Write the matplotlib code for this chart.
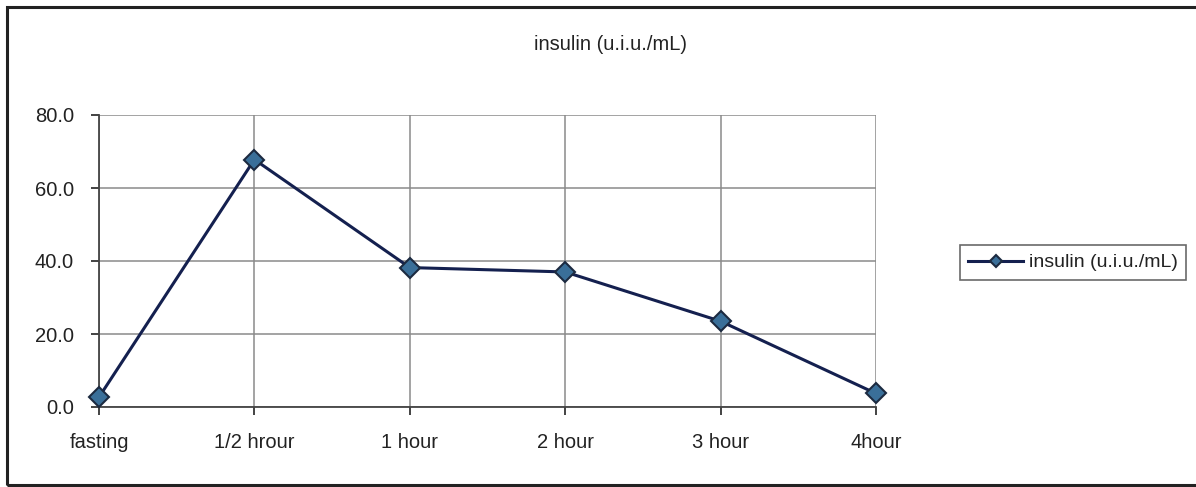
import matplotlib

matplotlib.use("Agg")
import matplotlib.pyplot as plt
from matplotlib.patches import Rectangle
from matplotlib.ticker import FormatStrFormatter

# values
times = ["fasting", "1/2 hrour", "1 hour", "2 hour", "3 hour", "4hour"]
insulin = [2.7, 67.8, 38.2, 37.0, 23.5, 3.7]
y_ticks = [0, 20, 40, 60, 80]
series_name = "insulin (u.i.u./mL)"

plt.rcParams["font.family"] = ["Liberation Sans", "DejaVu Sans"]

W, H = 1196, 487
fig = plt.figure(figsize=(W / 100, H / 100), dpi=100)
ax = fig.add_axes([99 / W, 1 - 407 / H, (876 - 99) / W, (407 - 115) / H])

x = list(range(len(times)))
ax.plot(x, insulin, color="#14204f", lw=2.2, marker="D", ms=10,
        mfc="#3a6f99", mec="#1c2a40", mew=1.5, clip_on=False, zorder=5,
        label=series_name)

ax.set_xlim(0, len(times) - 1)
ax.set_ylim(y_ticks[0], y_ticks[-1])
ax.set_xticks(x, times)
ax.set_yticks(y_ticks)
ax.yaxis.set_major_formatter(FormatStrFormatter("%.1f"))
ax.tick_params(axis="both", labelsize=14.5, colors="#222222", length=6, width=1.2, direction="out")
ax.tick_params(axis="y", pad=12)
ax.tick_params(axis="x", pad=13)
ax.grid(True, color="#8a8a8a", lw=1.1)
ax.set_axisbelow(True)
for side in ["top", "right"]:
    ax.spines[side].set_visible(False)
for side in ["left", "bottom"]:
    ax.spines[side].set_color("#444444")
    ax.spines[side].set_linewidth(1.3)

fig.text(610 / W, 1 - 44 / H, series_name, ha="center", va="center", fontsize=14.5, color="#222222")

leg = fig.legend(loc="center", bbox_to_anchor=((962 + 1184) / 2 / W, 1 - 262.5 / H),
                 fontsize=14, frameon=True, fancybox=False, handlelength=2.8,
                 handletextpad=0.3, borderpad=0.45, markerscale=0.65, labelcolor="#222222")
leg.get_frame().set_edgecolor("#444444")
leg.get_frame().set_linewidth(1.2)

fig.patches.append(Rectangle((7 / W, 2 / H), 1.0, 1 - 9 / H, transform=fig.transFigure,
                             fill=False, edgecolor="#222222", lw=2.2, clip_on=False))

fig.savefig("out.png", dpi=100)
plt.close(fig)
